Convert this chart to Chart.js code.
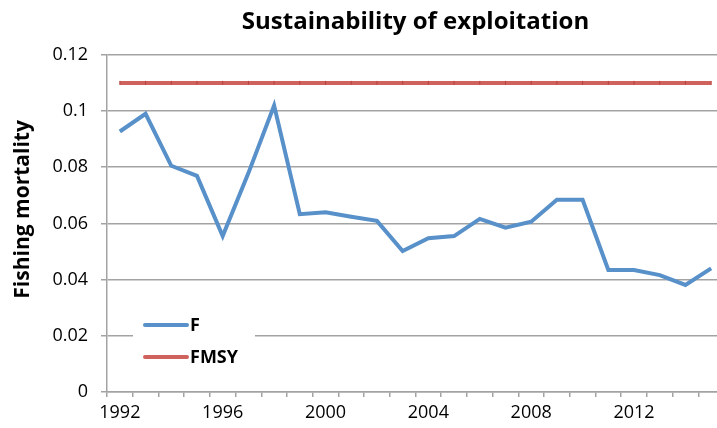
<!DOCTYPE html>
<html>
<head>
<meta charset="utf-8">
<script src="https://cdn.jsdelivr.net/npm/chart.js@4/dist/chart.umd.min.js"></script>
<style>
  html, body { margin: 0; padding: 0; background: #ffffff; overflow: hidden; }
  #wrap { width: 717px; height: 428px; overflow: hidden; }
  canvas { display: block; }
</style>
</head>
<body>
<div id="wrap"><canvas id="chart" width="730" height="428"></canvas></div>
<script>
// Assessment years
const years = ['1992','1993','1994','1995','1996','1997','1998','1999','2000','2001','2002','2003',
               '2004','2005','2006','2007','2008','2009','2010','2011','2012','2013','2014','2015'];

// Fishing mortality estimate per year
const fValues = [0.0927, 0.0990, 0.0805, 0.0769, 0.0555, 0.0779, 0.1019, 0.0633, 0.0640, 0.0624, 0.0609, 0.0502,
                 0.0547, 0.0555, 0.0616, 0.0585, 0.0606, 0.0684, 0.0684, 0.0434, 0.0434, 0.0416, 0.0381, 0.0440];

// Reference point (maximum sustainable yield)
const fmsyValues = [0.11, 0.11, 0.11, 0.11, 0.11, 0.11, 0.11, 0.11, 0.11, 0.11, 0.11, 0.11,
                    0.11, 0.11, 0.11, 0.11, 0.11, 0.11, 0.11, 0.11, 0.11, 0.11, 0.11, 0.11];

// Years that carry a visible label on the x axis
const xTickLabels = ['1992', '1996', '2000', '2004', '2008', '2012'];

const yAxisTitle = 'Fishing mortality';

const FONT = '"Open Sans", Lato, sans-serif';
const GRID = '#a3a3a3';

// Legend drawn inside the plot area, over a white box
const insetLegend = {
  id: 'insetLegend',
  afterDatasetsDraw(chart) {
    const ctx = chart.ctx;
    const x = chart.scales.x;
    const y = chart.scales.y;
    const left = x.left + 26;
    const top = y.getPixelForValue(0.0285);
    ctx.save();
    ctx.fillStyle = '#ffffff';
    ctx.fillRect(left, top, 122, 58);
    const rows = [top + 13, top + 45];
    chart.data.datasets.forEach((ds, i) => {
      const ry = rows[i];
      ctx.strokeStyle = ds.borderColor;
      ctx.lineWidth = 4;
      ctx.lineCap = 'round';
      ctx.beginPath();
      ctx.moveTo(left + 12, ry);
      ctx.lineTo(left + 54, ry);
      ctx.stroke();
      ctx.fillStyle = '#000000';
      ctx.font = 'bold 18px ' + FONT;
      ctx.textBaseline = 'middle';
      ctx.textAlign = 'left';
      ctx.fillText(ds.label, left + 57, ry + 1);
    });
    ctx.restore();
  }
};

// Rotated y-axis title, placed a little above the middle of the axis
const yTitle = {
  id: 'yTitle',
  afterDraw(chart) {
    const ctx = chart.ctx;
    const a = chart.chartArea;
    ctx.save();
    ctx.translate(23, (a.top + a.bottom) / 2 - 14);
    ctx.rotate(-Math.PI / 2);
    ctx.fillStyle = '#000000';
    ctx.font = 'bold 21px ' + FONT;
    ctx.textAlign = 'center';
    ctx.textBaseline = 'middle';
    ctx.fillText(yAxisTitle, 0, 0);
    ctx.restore();
  }
};

new Chart(document.getElementById('chart'), {
  type: 'line',
  data: {
    labels: years,
    datasets: [
      {
        label: 'F',
        data: fValues,
        borderColor: '#5890c9',
        backgroundColor: '#5890c9',
        borderWidth: 4,
        pointRadius: 0,
        tension: 0,
        fill: false
      },
      {
        label: 'FMSY',
        data: fmsyValues,
        borderColor: '#d0625e',
        backgroundColor: '#d0625e',
        borderWidth: 4,
        pointStyle: 'line',
        rotation: 90,
        pointRadius: 2,
        pointBorderColor: '#b9403c',
        pointBorderWidth: 1,
        tension: 0,
        fill: false
      }
    ]
  },
  plugins: [insetLegend, yTitle],
  options: {
    responsive: false,
    animation: false,
    layout: { padding: { left: 0, right: 6, top: 0, bottom: 0 } },
    plugins: {
      legend: { display: false },
      tooltip: { enabled: false },
      title: {
        display: true,
        text: 'Sustainability of exploitation',
        fullSize: false,
        color: '#000000',
        font: { family: FONT, size: 24, weight: 'bold' },
        padding: { top: 8, bottom: 18 }
      }
    },
    scales: {
      x: {
        type: 'category',
        offset: true,
        grid: {
          offset: true,
          drawOnChartArea: false,
          drawTicks: true,
          tickLength: 5,
          color: GRID,
          lineWidth: 1.5
        },
        border: { display: true, color: GRID, width: 1.5 },
        ticks: {
          autoSkip: false,
          maxRotation: 0,
          padding: 5,
          color: '#000000',
          font: { family: FONT, size: 18 },
          callback(value) {
            const lbl = this.getLabelForValue(value);
            return xTickLabels.includes(lbl) ? lbl : '';
          }
        },
        afterFit(scale) { scale.height = 36; }
      },
      y: {
        min: 0,
        max: 0.12,
        grid: {
          color: GRID,
          lineWidth: 1.5,
          drawTicks: true,
          tickLength: 6
        },
        border: { display: true, color: GRID, width: 1.5 },
        ticks: {
          stepSize: 0.02,
          padding: 13,
          color: '#000000',
          font: { family: FONT, size: 18 },
          callback(value) { return String(Math.round(value * 100) / 100); }
        },
        afterFit(scale) { scale.width = 107; }
      }
    }
  }
});
</script>
</body>
</html>
